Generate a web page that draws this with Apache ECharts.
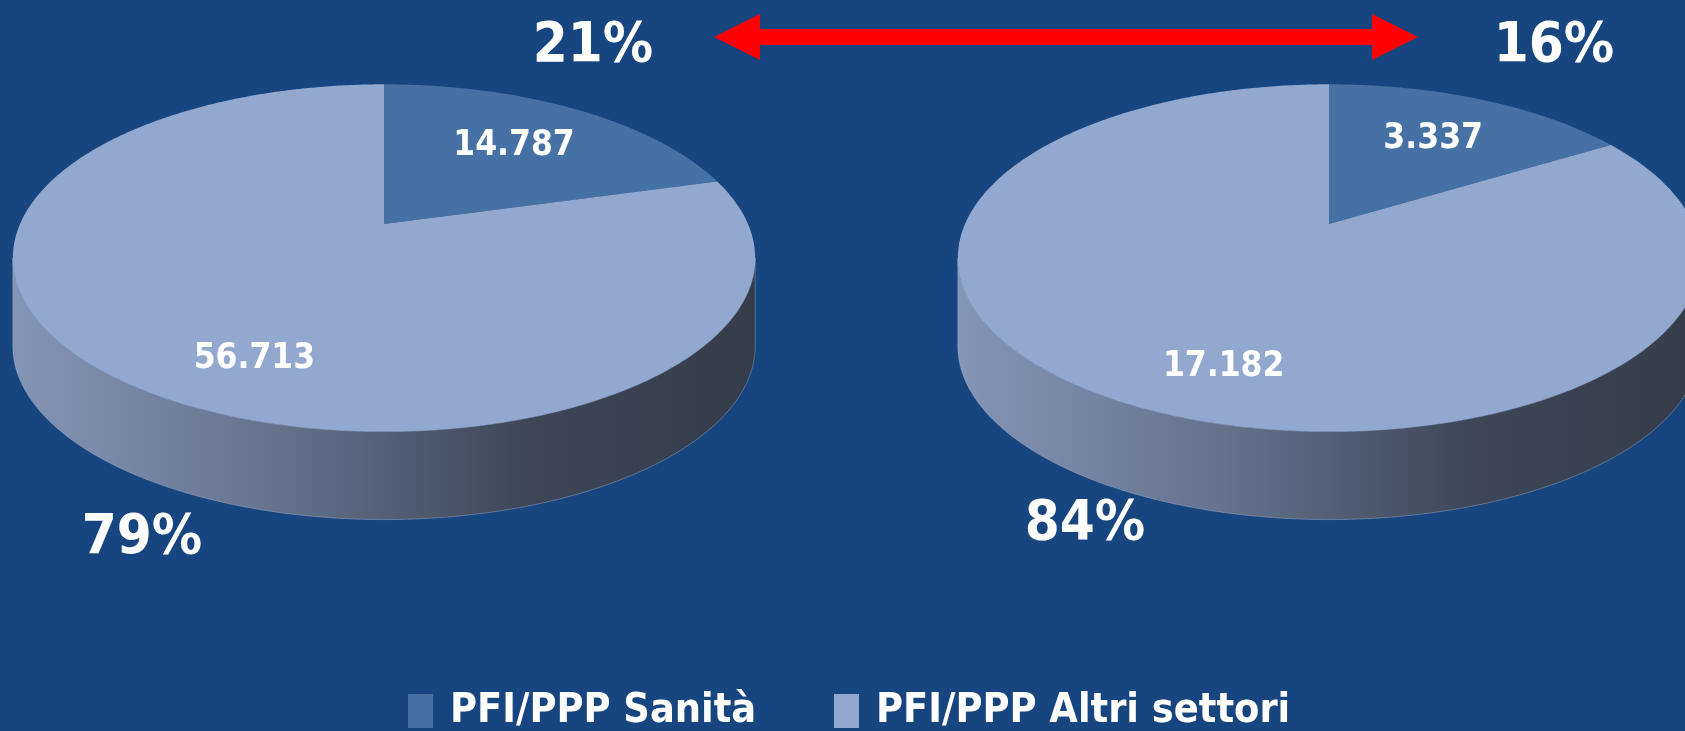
<!DOCTYPE html>
<html>
<head>
<meta charset="utf-8">
<script src="https://cdn.jsdelivr.net/npm/echarts@6/dist/echarts.min.js"></script>
<style>
html, body { margin: 0; padding: 0; background: #17457f; }
#main { width: 1685px; height: 731px; }
</style>
</head>
<body>
<div id="main"></div>
<script>
// dati
var categories = ['PFI/PPP Sanità', 'PFI/PPP Altri settori'];
var sanita = [14787, 3337];
var altri = [56713, 17182];
var values = [sanita, altri];

var colors = ['#4571a5', '#93a8cf'];
var FONT = "'DejaVu Sans Condensed', sans-serif";

// layout delle due torte (prospettiva)
var pies = [
    { cx: 384, cy: 224, r: 364, ry: 167, k: 0.1955, depth: 88, pct: [[593, 46], [142, 538]] },
    { cx: 1329, cy: 224, r: 364, ry: 167, k: 0.1955, depth: 88, pct: [[1554, 46], [1085, 524]] }
];

function proj(p, theta, f) {
    var u = Math.sin(theta) * f, v = -Math.cos(theta) * f;
    var d = 1 - p.k * v;
    return [p.cx + p.r * u / d, p.cy + p.ry * v / d];
}

function fmt(n) {
    return String(n).replace(/\B(?=(\d{3})+(?!\d))/g, '.');
}

function buildData(ci) {
    var out = [];
    for (var pi = 0; pi < pies.length; pi++) {
        var total = 0, start = 0;
        for (var c = 0; c < values.length; c++) total += values[c][pi];
        for (var c2 = 0; c2 < ci; c2++) start += values[c2][pi];
        out.push([pi, values[ci][pi], start, total]);
    }
    return out;
}

function arcPoints(p, a0, a1) {
    var pts = [];
    var n = Math.max(2, Math.ceil((a1 - a0) / 0.01));
    for (var i = 0; i <= n; i++) pts.push(proj(p, a0 + (a1 - a0) * i / n, 1));
    return pts;
}

function makeTop(ci) {
    return function (params, api) {
        var pi = api.value(0), val = api.value(1), start = api.value(2), total = api.value(3);
        var p = pies[pi];
        var a0 = start / total * 2 * Math.PI, a1 = (start + val) / total * 2 * Math.PI;
        var pts = [[p.cx, p.cy]].concat(arcPoints(p, a0, a1));
        var mid = (a0 + a1) / 2;
        var front = Math.max(0, -Math.cos(mid));
        // le etichette delle fette davanti vengono spinte verso il basso
        if (front > 0) mid = mid + (Math.PI - mid) * 0.36;
        var lp = proj(p, mid, 0.65 + 0.14 * front);
        return {
            type: 'group',
            children: [{
                type: 'polygon',
                shape: { points: pts },
                style: { fill: api.visual('color') }
            }, {
                type: 'text',
                x: lp[0], y: lp[1],
                style: {
                    text: fmt(val), fill: '#fff', font: 'bold 35px ' + FONT,
                    align: 'center', verticalAlign: 'middle'
                }
            }, {
                type: 'text',
                x: p.pct[ci][0], y: p.pct[ci][1],
                style: {
                    text: Math.round(val / total * 100) + '%', fill: '#fff', font: 'bold 56px ' + FONT,
                    align: 'center', verticalAlign: 'middle'
                }
            }]
        };
    };
}

function sideItem(params, api) {
    var pi = api.value(0), val = api.value(1), start = api.value(2), total = api.value(3);
    var p = pies[pi];
    var a0 = start / total * 2 * Math.PI, a1 = (start + val) / total * 2 * Math.PI;
    var f0 = Math.acos(-p.k), f1 = 2 * Math.PI - f0;
    var lo = Math.max(a0, f0), hi = Math.min(a1, f1);
    if (lo >= hi) return null;
    var top = arcPoints(p, lo, hi);
    var bot = top.map(function (q) { return [q[0], q[1] + p.depth]; }).reverse();
    return {
        type: 'polygon',
        shape: { points: top.concat(bot) },
        style: {
            fill: new echarts.graphic.LinearGradient(0, 0, 1, 0, [
                { offset: 0, color: '#8595b6' },
                { offset: 0.35, color: '#65738e' },
                { offset: 0.7, color: '#3c4657' },
                { offset: 1, color: '#353d4b' }
            ]),
            stroke: 'rgba(190,200,220,0.35)', lineWidth: 1
        }
    };
}

var series = [];
for (var ci = 0; ci < categories.length; ci++) {
    series.push({
        name: 'side' + ci,
        type: 'custom',
        coordinateSystem: 'none',
        z: 1,
        silent: true,
        renderItem: sideItem,
        data: buildData(ci)
    });
}
for (var cj = 0; cj < categories.length; cj++) {
    series.push({
        name: categories[cj],
        type: 'custom',
        coordinateSystem: 'none',
        z: 2,
        silent: true,
        itemStyle: { color: colors[cj] },
        renderItem: makeTop(cj),
        data: buildData(cj)
    });
}

var legendLeft = [408, 834];
var legends = categories.map(function (name, i) {
    return {
        data: [name],
        left: legendLeft[i],
        top: 683,
        padding: 0,
        icon: 'rect',
        itemWidth: 25,
        itemHeight: 34,
        itemGap: 0,
        selectedMode: false,
        textStyle: {
            color: '#fff',
            fontSize: 41,
            fontWeight: 'bold',
            fontFamily: FONT,
            lineHeight: 40,
            padding: [16, 0, 0, 12]
        }
    };
});

var myChart = echarts.init(document.getElementById('main'));
var option = {
    backgroundColor: '#17457f',
    animation: false,
    legend: legends,
    graphic: [{
        type: 'polygon',
        shape: {
            points: [[714, 37], [760, 14], [760, 29], [1372, 29], [1372, 14], [1418, 37],
                     [1372, 60], [1372, 45], [760, 45], [760, 60]]
        },
        style: { fill: '#ff0000' },
        z: 10
    }],
    series: series
};
myChart.setOption(option);
</script>
</body>
</html>
